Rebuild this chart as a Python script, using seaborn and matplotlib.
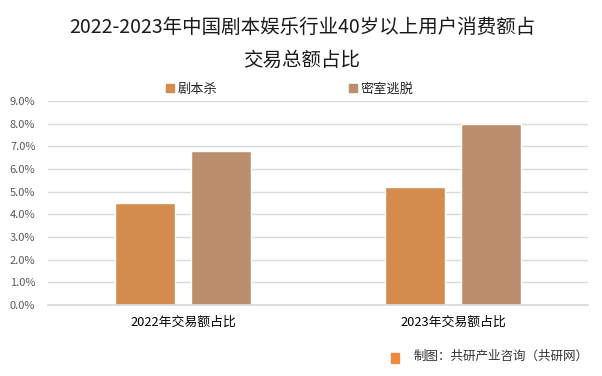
import pandas as pd
import seaborn as sns
import matplotlib.pyplot as plt
from matplotlib.ticker import PercentFormatter

# data
categories = ["2022年交易额占比", "2023年交易额占比"]
series_names = ["剧本杀", "密室逃脱"]
jubensha = [4.5, 5.2]
mishi = [6.8, 8.0]
colors = ["#D38B4E", "#BB8E6D"]

df = pd.DataFrame({
    "类别": categories * 2,
    "类型": [series_names[0]] * 2 + [series_names[1]] * 2,
    "占比": jubensha + mishi,
})

sns.set_theme(style="white")
plt.rcParams["font.family"] = ["Noto Sans CJK SC", "DejaVu Sans"]

fig = plt.figure(figsize=(6.02, 3.76), dpi=100)
ax = fig.add_axes([48 / 602, 71 / 376, 540 / 602, 204 / 376])

sns.barplot(data=df, x="类别", y="占比", hue="类型", palette=colors,
            width=0.57, gap=0.22, saturation=1, ax=ax, legend=False)

ax.set_xlim(-0.5, 1.5)
ax.set_ylim(0, 9)
ax.set_yticks(range(0, 10))
ax.yaxis.set_major_formatter(PercentFormatter(decimals=1))
ax.yaxis.grid(True, color="#D9D9D9", linewidth=1)
ax.set_axisbelow(True)
for side in ["top", "right", "left"]:
    ax.spines[side].set_visible(False)
ax.spines["bottom"].set_color("#D9D9D9")
ax.set_xlabel("")
ax.set_ylabel("")
ax.tick_params(axis="y", labelsize=8, labelcolor="#595959", length=0, pad=9)
ax.tick_params(axis="x", labelsize=9.3, labelcolor="#000000", length=0, pad=8)

# title
fig.text(302 / 602, 1 - 27 / 376, "2022-2023年中国剧本娱乐行业40岁以上用户消费额占",
         ha="center", va="center", fontsize=14, color="#1a1a1a")
fig.text(302 / 602, 1 - 60 / 376, "交易总额占比",
         ha="center", va="center", fontsize=14, color="#1a1a1a")

# legend
handles = [plt.Rectangle((0, 0), 1, 1, color=c) for c in colors]
fig.legend(handles, series_names, loc="center", bbox_to_anchor=(290 / 602, 1 - 89 / 376),
           ncol=2, frameon=False, fontsize=9.5, handlelength=0.55, handleheight=0.55,
           handletextpad=0.3, columnspacing=10, borderpad=0, borderaxespad=0)

# footer
fig.patches.append(plt.Rectangle((391 / 602, 1 - 363 / 376), 8 / 602, 10 / 376,
                                 transform=fig.transFigure, color="#F08A3C"))
fig.text(414 / 602, 1 - 356 / 376, "制图：共研产业咨询（共研网）",
         ha="left", va="center", fontsize=9, color="#333333")

fig.savefig("out.png", dpi=100)
